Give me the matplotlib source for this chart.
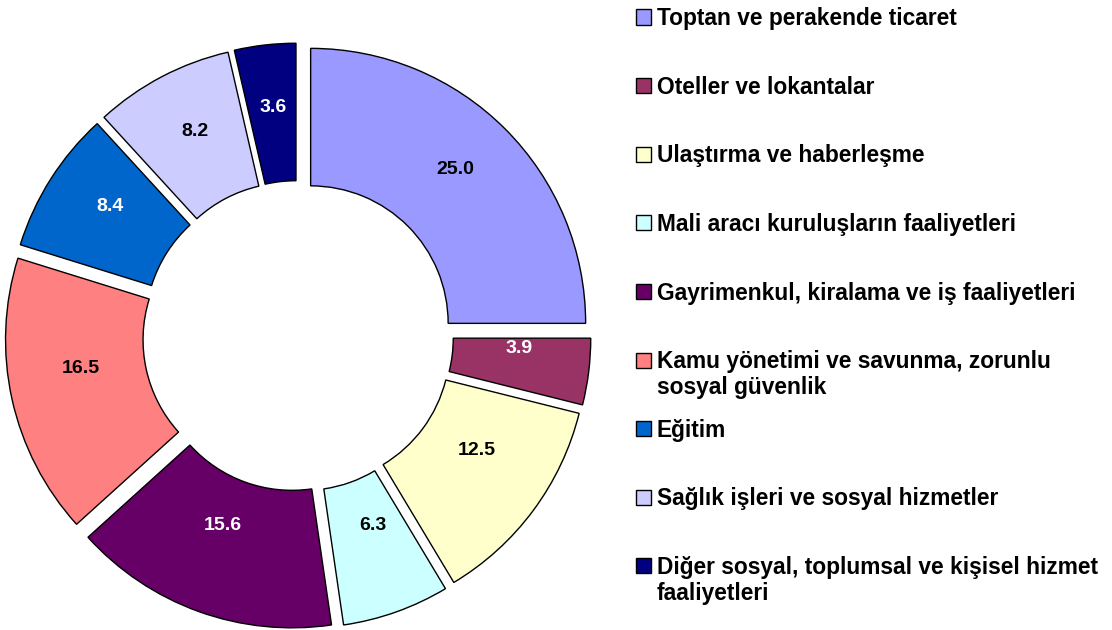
import matplotlib.pyplot as plt
from matplotlib.patches import Rectangle

categories = [
    "Toptan ve perakende ticaret",
    "Oteller ve lokantalar",
    "Ulaştırma ve haberleşme",
    "Mali aracı kuruluşların faaliyetleri",
    "Gayrimenkul, kiralama ve iş faaliyetleri",
    "Kamu yönetimi ve savunma, zorunlu\nsosyal güvenlik",
    "Eğitim",
    "Sağlık işleri ve sosyal hizmetler",
    "Diğer sosyal, toplumsal ve kişisel hizmet\nfaaliyetleri",
]
values = [25.0, 3.9, 12.5, 6.3, 15.6, 16.5, 8.4, 8.2, 3.6]
colors = ["#9999FF", "#993366", "#FFFFCC", "#CCFFFF", "#660066",
          "#FF8080", "#0066CC", "#CCCCFF", "#000080"]
label_colors = ["black", "white", "black", "black", "white",
                "black", "white", "black", "white"]

plt.rcParams["font.family"] = ["Liberation Sans", "DejaVu Sans"]

W, H = 1112, 630
fig = plt.figure(figsize=(W / 100, H / 100), dpi=100)

# donut: centre ~ (298, 336) px, outer radius ~275 px
cx, cy, R = 298, 336, 275
size = 640
ax = fig.add_axes([(cx - size / 2) / W, (H - cy - size / 2) / H, size / W, size / H])
lim = size / 2 / R

wedges, texts, autotexts = ax.pie(
    values, colors=colors, startangle=90, counterclock=False,
    explode=[0.065] * len(values), radius=1.0,
    autopct=lambda p: f"{p:.1f}", pctdistance=0.72,
    wedgeprops=dict(width=0.5, edgecolor="black", linewidth=1.0),
    textprops=dict(fontsize=14, fontweight="bold"),
)
ax.set_xlim(-lim, lim)
ax.set_ylim(-lim, lim)
ax.set_aspect("equal")
ax.axis("off")
for t, c in zip(autotexts, label_colors):
    t.set_color(c)
    x, y = t.get_position()
    t.set_position((x * 1.03, y + 0.05))  # Excel puts the labels a bit higher

# legend drawn by hand so the two-line entries sit like the original
fs = 16.4
em = fs * 100 / 72
y0, step, line_h = 17, 68.6, 26
for i, (lab, col) in enumerate(zip(categories, colors)):
    yc = y0 + step * i
    fig.add_artist(Rectangle((636 / W, (H - yc - 7.5) / H), 15 / W, 15 / H,
                             facecolor=col, edgecolor="black", linewidth=1.0,
                             transform=fig.transFigure))
    for j, line in enumerate(lab.split("\n")):
        yb = yc + 0.36 * em + line_h * j
        fig.text(657 / W, (H - yb) / H, line, fontsize=fs, fontweight="bold",
                 va="baseline", ha="left")

fig.savefig("out.png", dpi=100)
